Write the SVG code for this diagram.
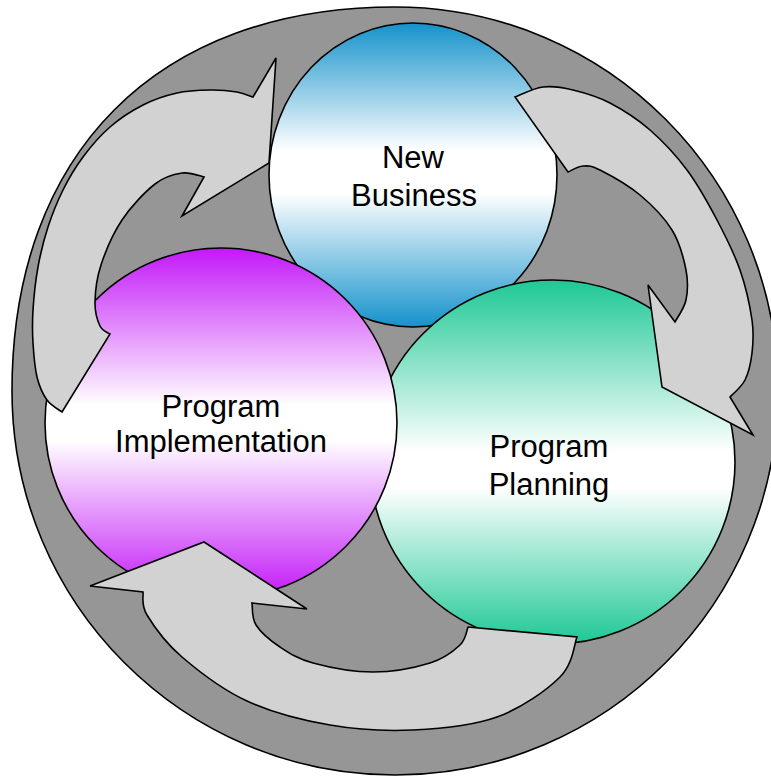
<svg xmlns="http://www.w3.org/2000/svg" width="771" height="776" viewBox="0 0 771 776">
<style>
.node{stroke:#000;stroke-width:1.6}
.arrow{fill:#d2d2d2;stroke:#000;stroke-width:1.6;stroke-linejoin:miter}
.lbl{font-family:"Liberation Sans",Arial,sans-serif;font-size:31px;fill:#000;text-anchor:middle}
</style>
<defs>
<linearGradient id="gBlue" x1="0" y1="0" x2="0" y2="1">
<stop offset="0" stop-color="#1592cb"/>
<stop offset="0.42" stop-color="#ffffff"/>
<stop offset="0.56" stop-color="#ffffff"/>
<stop offset="1" stop-color="#1592cb"/>
</linearGradient>
<linearGradient id="gPurple" x1="0" y1="0" x2="0" y2="1">
<stop offset="0" stop-color="#c318f8"/>
<stop offset="0.45" stop-color="#ffffff"/>
<stop offset="0.55" stop-color="#ffffff"/>
<stop offset="1" stop-color="#c318f8"/>
</linearGradient>
<linearGradient id="gGreen" x1="0" y1="0" x2="0" y2="1">
<stop offset="0" stop-color="#1dc895"/>
<stop offset="0.47" stop-color="#ffffff"/>
<stop offset="0.57" stop-color="#ffffff"/>
<stop offset="1" stop-color="#1dc895"/>
</linearGradient>
</defs>
<g id="background">
<path d="M12,391 C12,153 157.5,7 395,7 C606.5,7 778,178.9 778,391 C778,603.1 606.5,775 395,775 C183.5,775 12,603.1 12,391 Z" fill="#969696" stroke="#000" stroke-width="1.6"/>
</g>
<g id="node-new-business">
<ellipse class="node" cx="413" cy="175" rx="144" ry="152" fill="url(#gBlue)"/>
<text class="lbl" x="413" y="168">New</text>
<text class="lbl" x="414" y="206">Business</text>
</g>
<g id="node-program-planning">
<ellipse class="node" cx="552.5" cy="462" rx="182.5" ry="182" fill="url(#gGreen)"/>
<text class="lbl" x="549" y="457">Program</text>
<text class="lbl" x="549" y="495">Planning</text>
</g>
<g id="node-program-implementation">
<ellipse class="node" cx="221" cy="423" rx="176" ry="175" fill="url(#gPurple)"/>
<text class="lbl" x="221" y="417">Program</text>
<text class="lbl" x="221" y="452">Implementation</text>
</g>
<g id="connectors">
<path id="arrow-impl-to-new" class="arrow" d="M62,412 C59.5,410 51.2,405.8 47,400 C42.8,394.2 39.3,386.5 37,377 C34.7,367.5 33.7,354.2 33,343 C32.3,331.8 32.2,322.7 33,310 C33.8,297.3 35.5,280.8 38,267 C40.5,253.2 43.8,239.8 48,227 C52.2,214.2 57.2,201.7 63,190 C68.8,178.3 75.2,167.5 83,157 C90.8,146.5 100,135.7 110,127 C120,118.3 131.8,110.7 143,105 C154.2,99.3 165.8,95.5 177,93 C188.2,90.5 200,90.2 210,90 C220,89.8 229.8,90.8 237,92 C244.2,93.2 250.3,96.2 253,97 L276,58 L269,163 L182,216 L204,177 C200.3,176.3 190.2,171.8 182,173 C173.8,174.2 165,176.2 155,184 C145,191.8 131,206.5 122,220 C113,233.5 105.5,251.3 101,265 C96.5,278.7 95.2,291.8 95,302 C94.8,312.2 97.5,320.7 100,326 C102.5,331.3 108.3,332.7 110,334 Z"/>
<path id="arrow-new-to-planning" class="arrow" d="M515,97 C519.7,95.3 533.3,88.2 543,87 C552.7,85.8 561.8,87.3 573,90 C584.2,92.7 597.2,96.3 610,103 C622.8,109.7 637.2,118.8 650,130 C662.8,141.2 675.8,155 687,170 C698.2,185 708.2,203.3 717,220 C725.8,236.7 734.2,253.3 740,270 C745.8,286.7 750,306.2 752,320 C754,333.8 753.2,343 752,353 C750.8,363 748.7,372.7 745,380 C741.3,387.3 732.5,394.2 730,397 L753,435 L662,387 L648,285 L675,322 C676.8,318.3 684.2,308.7 686,300 C687.8,291.3 688.3,281.7 686,270 C683.7,258.3 679.7,242.5 672,230 C664.3,217.5 652,205 640,195 C628,185 609.5,174.8 600,170 C590.5,165.2 588.3,165.7 583,166 C577.7,166.3 570.5,171 568,172 Z"/>
<path id="arrow-planning-to-impl" class="arrow" d="M577,637 C574.2,643.7 573.3,663.7 560,677 C546.7,690.3 521.5,708.2 497,717 C472.5,725.8 440.8,728.7 413,730 C385.2,731.3 357.7,729.8 330,725 C302.3,720.2 271.7,712.3 247,701 C222.3,689.7 198.7,671.3 182,657 C165.3,642.7 153.5,625.8 147,615 C140.5,604.2 143.7,595.8 143,592 L90,586 L204,542 L307,609 L252,603 C252.7,606.7 251.3,617.7 256,625 C260.7,632.3 270.5,640.7 280,647 C289.5,653.3 297.5,658.8 313,663 C328.5,667.2 353.5,672 373,672 C392.5,672 415.5,667.5 430,663 C444.5,658.5 453.7,651 460,645 C466.3,639 466.7,630 468,627 Z"/>
</g>
</svg>
